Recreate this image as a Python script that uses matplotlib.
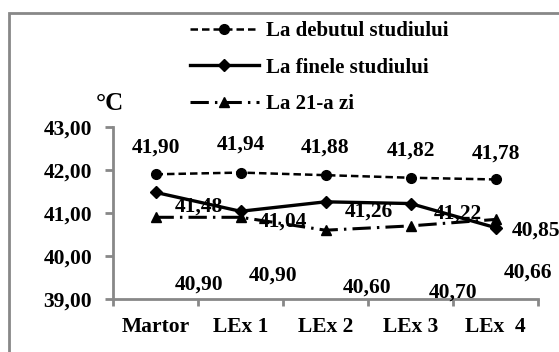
import matplotlib
matplotlib.use("Agg")
from matplotlib import pyplot as plt
from matplotlib.patches import Rectangle

# Data
categories = ["Martor", "LEx 1", "LEx 2", "LEx 3", "LEx  4"]
debut = [41.90, 41.94, 41.88, 41.82, 41.78]
finele = [41.48, 41.04, 41.26, 41.22, 40.66]
zi21 = [40.90, 40.90, 40.60, 40.70, 40.85]
yticks = [39, 40, 41, 42, 43]

# Label offsets in pixels (dx, dy with y downwards)
debut_off = [(0, -27), (0, -28), (0, -28), (0, -27), (0, -26)]
finele_off = [(43, 14), (42, 10), (43, 10), (47, 10), (33, 45)]
zi21_off = [(44, 67), (33, 58), (42, 57), (43, 67), (40, 11)]

plt.rcParams['font.family'] = ['Liberation Serif', 'DejaVu Serif']
plt.rcParams['font.weight'] = 'bold'

fig = plt.figure(figsize=(5.59, 3.52), dpi=100)
ax = fig.add_axes([113/559, 1 - 299/352, 425/559, 172/352])

x = list(range(len(categories)))
l1, = ax.plot(x, debut, color='black', lw=1.8, linestyle=(0, (3, 1.6)),
              marker='o', markersize=7, label='La debutul studiului')
l2, = ax.plot(x, finele, color='black', lw=2.4, linestyle='-',
              marker='D', markersize=6.5, label='La finele studiului')
l3, = ax.plot(x, zi21, color='black', lw=2.2, linestyle=(0, (6, 2, 0.8, 2)),
              marker='^', markersize=7, label='La 21-a zi')

def fmt(v):
    return f"{v:.2f}".replace('.', ',')

for vals, offs in [(debut, debut_off), (finele, finele_off), (zi21, zi21_off)]:
    for xi, v, (dx, dy) in zip(x, vals, offs):
        ax.annotate(fmt(v), (xi, v), xytext=(dx, -dy), textcoords='offset pixels',
                    ha='center', va='center', fontsize=15.5, fontweight='bold',
                    annotation_clip=False)

ax.set_xlim(-0.5, len(categories) - 0.5)
ax.set_ylim(39, 43)
ax.set_yticks(yticks)
ax.set_yticklabels([fmt(v) for v in yticks])
ax.set_xticks(x)
ax.set_xticklabels(categories)
ax.set_xticks([i - 0.5 for i in range(len(categories) + 1)], minor=True)

for s in ['top', 'right']:
    ax.spines[s].set_visible(False)
for s in ['left', 'bottom']:
    ax.spines[s].set_color('#888888')
    ax.spines[s].set_linewidth(2)

ax.tick_params(axis='y', length=6, width=2, color='#888888', pad=9, labelsize=15.5)
ax.tick_params(axis='x', which='major', length=0, pad=13, labelsize=15.5)
ax.tick_params(axis='x', which='minor', length=5, width=2, color='#888888')

fig.text(110/559, 1 - 104/352, '°C', ha='center', va='center', fontsize=18, fontweight='bold')

fig.legend(handles=[l1, l2, l3], loc='upper left', bbox_to_anchor=(190/559, 1 - 21/352),
           frameon=False, borderpad=0, borderaxespad=0, handlelength=3.3,
           handletextpad=0.35, labelspacing=0.8, fontsize=15)

fig.add_artist(Rectangle((9/559, -0.1), 2, (352 - 13)/352 + 0.1, transform=fig.transFigure,
                         fill=False, edgecolor='#888888', lw=2, clip_on=False))

fig.savefig('out.png', dpi=100)
